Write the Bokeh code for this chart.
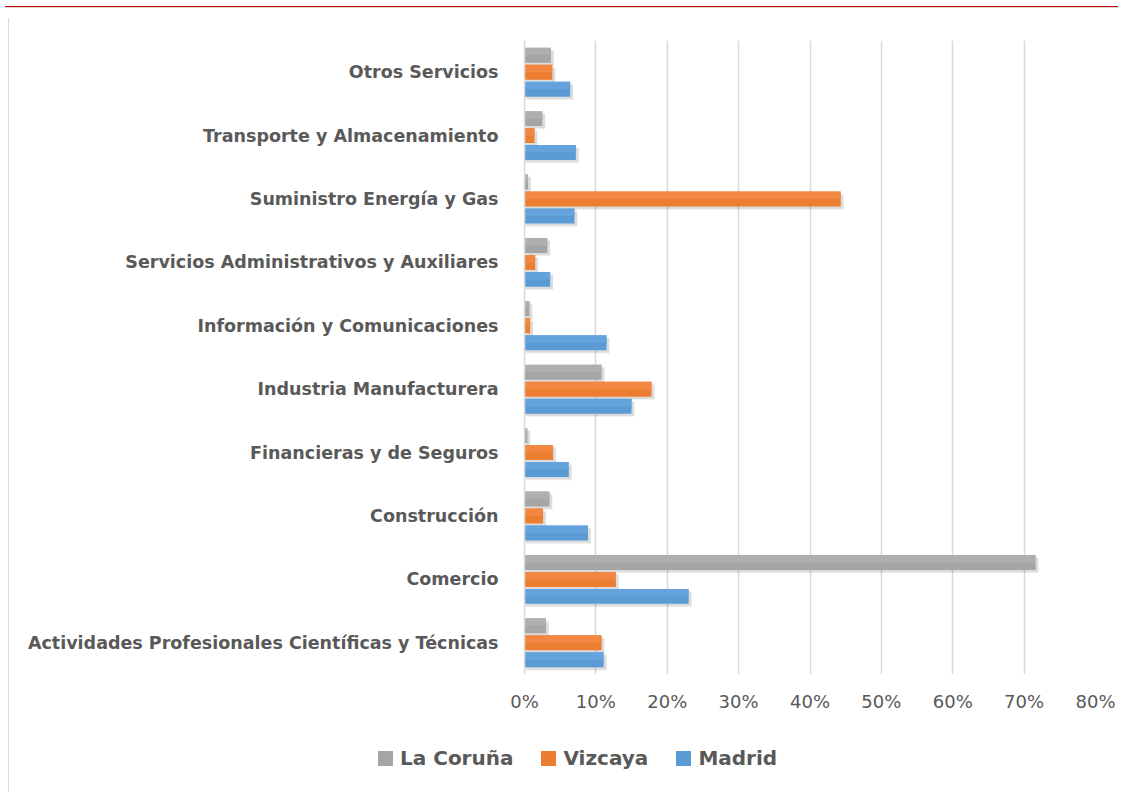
import numpy as np
from bokeh.plotting import figure
from bokeh.models import (ColumnDataSource, FactorRange, Range1d, FixedTicker,
                          NumeralTickFormatter, Div, Spacer)
from bokeh.layouts import column, row
from bokeh.transform import dodge
from bokeh.embed import file_html
from bokeh.resources import INLINE

# ---- data (bottom to top) ----
categories = [
    "Actividades Profesionales Científicas y Técnicas",
    "Comercio",
    "Construcción",
    "Financieras y de Seguros",
    "Industria Manufacturera",
    "Información y Comunicaciones",
    "Servicios Administrativos y Auxiliares",
    "Suministro Energía y Gas",
    "Transporte y Almacenamiento",
    "Otros Servicios",
]
madrid    = [0.111, 0.230, 0.089, 0.062, 0.150, 0.115, 0.036, 0.070, 0.072, 0.064]
vizcaya   = [0.108, 0.128, 0.026, 0.040, 0.178, 0.008, 0.015, 0.443, 0.014, 0.039]
la_coruna = [0.030, 0.716, 0.035, 0.004, 0.108, 0.007, 0.032, 0.005, 0.025, 0.037]
series_names = ["La Coruña", "Vizcaya", "Madrid"]
series_colors = ["#A5A5A5", "#ED7D31", "#5B9BD5"]
x_ticks = [0, 0.1, 0.2, 0.3, 0.4, 0.5, 0.6, 0.7, 0.8]

src = ColumnDataSource(dict(
    cat=categories,
    madrid=madrid, vizcaya=vizcaya, coruna=la_coruna,
    madrid_s=np.array(madrid) + 0.004,
    vizcaya_s=np.array(vizcaya) + 0.004,
    coruna_s=np.array(la_coruna) + 0.004,
))

TXT = "#595959"
GRID = "#D9D9D9"
FONT = "DejaVu Sans"

p = figure(width=1109, height=724, y_range=FactorRange(*categories),
           x_range=Range1d(0, 0.8), output_backend="svg", toolbar_location=None,
           min_border_left=510, min_border_right=28, min_border_top=27,
           min_border_bottom=63)
p.outline_line_color = None
p.background_fill_color = "white"
p.border_fill_color = "white"

specs = [
    ("coruna", 0.268, series_colors[0], "#B3B3B3"),
    ("vizcaya", 0.0, series_colors[1], "#F38B48"),
    ("madrid", -0.268, series_colors[2], "#6AA7DF"),
]
H = 0.236
for col, off, colr, light in specs:
    # soft shadow
    p.hbar(y=dodge("cat", off - 0.05, range=p.y_range), left=0.002, right=col + "_s",
           height=H, source=src, fill_color="black", fill_alpha=0.07, line_color=None)
    p.hbar(y=dodge("cat", off - 0.035, range=p.y_range), left=0.001, right=col + "_s",
           height=H, source=src, fill_color="black", fill_alpha=0.07, line_color=None)
    p.hbar(y=dodge("cat", off, range=p.y_range), left=0, right=col,
           height=H, source=src, fill_color=colr, line_color=None)
    # lighter top half (gradient hint)
    p.hbar(y=dodge("cat", off + H / 4, range=p.y_range), left=0, right=col,
           height=H / 2, source=src, fill_color=light, fill_alpha=0.7, line_color=None)

# axes
p.xaxis.ticker = FixedTicker(ticks=x_ticks)
p.xaxis.formatter = NumeralTickFormatter(format="0%")
p.xaxis.axis_line_color = None
p.xaxis.major_tick_line_color = None
p.xaxis.minor_tick_line_color = None
p.xaxis.major_label_text_font = FONT
p.xaxis.major_label_text_font_size = "18px"
p.xaxis.major_label_text_color = TXT
p.xaxis.major_label_standoff = 10

p.yaxis.axis_line_color = GRID
p.yaxis.axis_line_width = 1.5
p.yaxis.major_tick_line_color = None
p.yaxis.minor_tick_line_color = None
p.yaxis.major_label_text_font = FONT
p.yaxis.major_label_text_font_size = "17.5px"
p.yaxis.major_label_text_font_style = "bold"
p.yaxis.major_label_text_color = TXT
p.yaxis.major_label_standoff = 20

p.xgrid.grid_line_color = GRID
p.xgrid.grid_line_width = 1.5
p.ygrid.grid_line_color = None

# ---- legend (HTML strip below the chart) ----
entries = "".join(
    f'<span style="display:inline-block;width:15px;height:15px;background:{c};'
    f'margin-right:7px;"></span><span style="margin-right:28px;">{n}</span>'
    for n, c in zip(series_names, series_colors))
legend_div = Div(
    text=(f'<div style="display:flex;align-items:center;white-space:nowrap;'
          f'font-family:\'{FONT}\';font-weight:bold;font-size:20px;color:{TXT};'
          f'line-height:24px;">{entries}</div>'),
    width=1109, height=50,
    styles={"padding-left": "359px", "padding-top": "4px", "box-sizing": "border-box"})

topline = Div(text="", width=1113, height=3, styles={
    "background": "linear-gradient(to bottom, #ffffff 0px, #ffffff 1px, #C00000 1px, #C00000 2px, #D9D9D9 2px, #D9D9D9 3px)"})
leftline = Div(text="", width=1, height=774, styles={"background": "#D9D9D9"})
layout = column(topline,
                row(Spacer(width=3), leftline, column(p, legend_div, spacing=0), spacing=0),
                spacing=0)

open("out.html", "w").write(file_html(layout, INLINE))
